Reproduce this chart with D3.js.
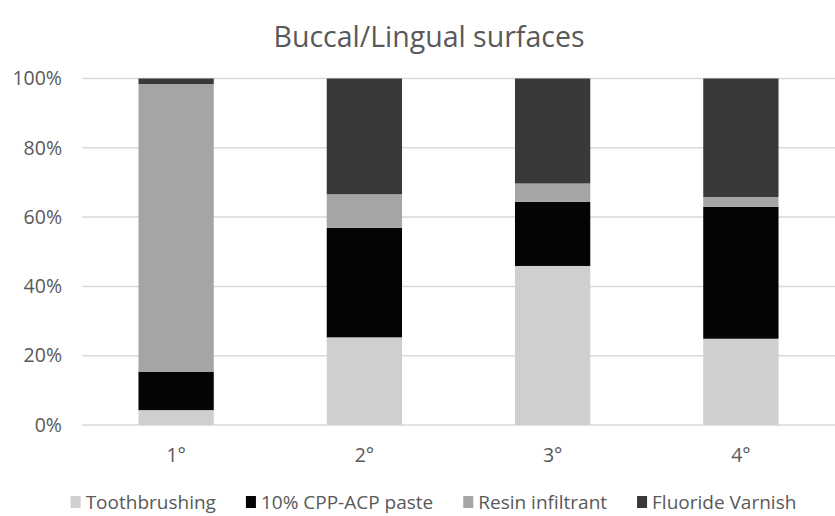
<!DOCTYPE html>
<html>
<head>
<meta charset="utf-8">
<script src="https://cdn.jsdelivr.net/npm/d3@7"></script>
<style>
  html, body { margin: 0; padding: 0; background: #fff; }
  svg { display: block; font-family: "Open Sans", "Noto Sans", sans-serif; }
</style>
</head>
<body>
<div id="chart"></div>
<script>
// values (percent of each stage)
const stages = ['1°', '2°', '3°', '4°'];
const seriesNames = ['Toothbrushing', '10% CPP-ACP paste', 'Resin infiltrant', 'Fluoride Varnish'];
const toothbrushing = [4.3, 25.3, 45.9, 24.9];
const cppAcp = [11.1, 31.6, 18.5, 38.1];
const resin = [83.0, 9.7, 5.3, 2.8];
const fluoride = [1.6, 33.4, 30.3, 34.2];
const yTicks = [0, 20, 40, 60, 80, 100];
const colors = ['#d0cecf', '#030505', '#a5a5a5', '#3a3937'];

const width = 835, height = 516;
const margin = { top: 78.5, right: 0, bottom: 91, left: 82 };

const svg = d3.select('#chart').append('svg')
  .attr('width', width)
  .attr('height', height);

// title
svg.append('text')
  .attr('x', 429)
  .attr('y', 47)
  .attr('text-anchor', 'middle')
  .style('font-size', '28.5px')
  .style('fill', '#595959')
  .text('Buccal/Lingual surfaces');

// build rows for stacking
const rows = stages.map((s, i) => ({
  stage: s,
  [seriesNames[0]]: toothbrushing[i],
  [seriesNames[1]]: cppAcp[i],
  [seriesNames[2]]: resin[i],
  [seriesNames[3]]: fluoride[i]
}));
const stacked = d3.stack().keys(seriesNames)(rows);

const x = d3.scaleBand()
  .domain(stages)
  .range([margin.left, width - margin.right])
  .paddingInner(0.6)
  .paddingOuter(0.3);

const y = d3.scaleLinear()
  .domain([0, 100])
  .range([height - margin.bottom, margin.top]);

// gridlines
svg.append('g')
  .selectAll('line')
  .data(yTicks)
  .join('line')
  .attr('x1', margin.left)
  .attr('x2', width - margin.right)
  .attr('y1', d => y(d))
  .attr('y2', d => y(d))
  .style('stroke', '#d9d9d9')
  .style('stroke-width', 1.5);

// y axis labels
const yAxis = svg.append('g')
  .attr('transform', `translate(${margin.left - 20},0)`)
  .call(d3.axisLeft(y).tickValues(yTicks).tickFormat(d => d + '%').tickSize(0).tickPadding(0));
yAxis.select('.domain').remove();
yAxis.selectAll('text')
  .style('font-family', '"Open Sans", sans-serif')
  .style('font-size', '19.5px')
  .style('fill', '#595959');

// bars
svg.append('g')
  .selectAll('g')
  .data(stacked)
  .join('g')
  .style('fill', (d, i) => colors[i])
  .selectAll('rect')
  .data(d => d)
  .join('rect')
  .attr('x', d => x(d.data.stage))
  .attr('width', x.bandwidth())
  .attr('y', d => y(d[1]))
  .attr('height', d => y(d[0]) - y(d[1]));

// x axis labels
const xAxis = svg.append('g')
  .attr('transform', `translate(0,${height - margin.bottom})`)
  .call(d3.axisBottom(x).tickSize(0).tickPadding(23));
xAxis.select('.domain').remove();
xAxis.selectAll('text')
  .style('font-family', '"Open Sans", sans-serif')
  .style('font-size', '19.5px')
  .style('fill', '#595959');

// legend, centred under the plot
const legend = svg.append('g');
const items = legend.selectAll('g')
  .data(seriesNames)
  .join('g');
items.append('rect')
  .attr('width', 10)
  .attr('height', 12)
  .attr('y', -13)
  .style('fill', (d, i) => colors[i]);
items.append('text')
  .attr('x', 15)
  .attr('y', 0)
  .style('font-size', '19px')
  .style('fill', '#595959')
  .text(d => d);

let cursor = 0;
items.each(function () {
  const g = d3.select(this);
  g.attr('transform', `translate(${cursor},0)`);
  const w = 15 + g.select('text').node().getComputedTextLength();
  cursor += w + 30;
});
cursor -= 30;
legend.attr('transform', `translate(${(70 + 797) / 2 - cursor / 2},509)`);
</script>
</body>
</html>
